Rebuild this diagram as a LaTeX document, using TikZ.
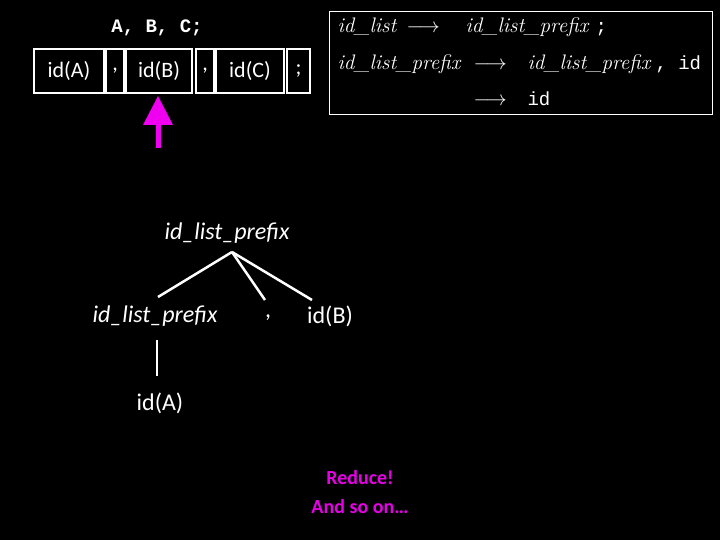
\documentclass[tikz,border=0pt]{standalone}
\usepackage{fontspec}
\setmainfont{Carlito}
\newfontfamily\gram{Latin Modern Roman}
\newfontfamily\mono{Liberation Mono}
\definecolor{magA}{RGB}{240,0,240}
\definecolor{magT}{RGB}{230,0,230}
\begin{document}
\begin{tikzpicture}[x=1pt,y=-1pt,
  cell/.style={draw=white,line width=2.5pt,minimum height=44pt,inner sep=0pt,text=white,font=\fontsize{22}{26}\selectfont},
  lbl/.style={text=white,font=\fontsize{24}{28}\selectfont},
  gr/.style={text=white,font=\gram\itshape\fontsize{21}{24}\selectfont,anchor=base west},
  grm/.style={text=white,font=\mono\fontsize{19}{24}\selectfont,anchor=base west},
  edge/.style={white,line width=2.5pt},
  mag/.style={text=magT,font=\bfseries\fontsize{20}{24}\selectfont}]
\fill[black] (0,0) rectangle (720,540);
\useasboundingbox (0,0) rectangle (720,540);
\node[text=white,font=\mono\bfseries\fontsize{19}{22}\selectfont] (abc) at (157,28) {A, B, C;};
\node[cell,minimum width=70pt] (c1) at (69,71) {id(A)};
\node[cell,minimum width=18pt] (c2) at (115,71) {,};
\node[cell,minimum width=66pt] (c3) at (159,71) {id(B)};
\node[cell,minimum width=18pt] (c4) at (205,71) {,};
\node[cell,minimum width=68pt] (c5) at (250,71) {id(C)};
\node[cell,minimum width=23pt] (c6) at (298.5,71) {;};
\coordinate (atip) at (158,96);
\coordinate (abase) at (158,148);
\fill[magA] (143,125) -- (atip) -- (173,125) -- cycle;
\draw[magA,line width=5pt] (158,124) -- (abase);
\node[draw=white,line width=1pt,minimum width=383pt,minimum height=103pt] (gbox) at (520.5,63.5) {};
\node[gr] (g1) at (334,33) {id\_list};
\node[gr] (g2) at (403,33) {$\longrightarrow$};
\node[gr] (g3) at (462,33) {id\_list\_prefix};
\node[grm] (g4) at (592,33) {;};
\node[gr] (g5) at (334,70) {id\_list\_prefix};
\node[gr] (g6) at (470,70) {$\longrightarrow$};
\node[gr] (g7) at (524,70) {id\_list\_prefix};
\node[grm] (g8) at (652,70) {, id};
\node[gr] (g9) at (470,106) {$\longrightarrow$};
\node[grm] (g10) at (524,106) {id};
\node[lbl,font=\itshape\fontsize{24}{28}\selectfont] (root) at (227,233) {id\_list\_prefix};
\node[lbl,font=\itshape\fontsize{24}{28}\selectfont] (ch1) at (155,316) {id\_list\_prefix};
\node[lbl] (ch2) at (268,318) {,};
\node[lbl] (ch3) at (330,316) {id(B)};
\node[lbl] (leaf) at (160,403) {id(A)};
\coordinate (r) at (232,252);
\coordinate (e1) at (158,297);
\coordinate (e2) at (265,300);
\coordinate (e3) at (312,300);
\coordinate (v1) at (157,340);
\coordinate (v2) at (157,376);
\draw[edge] (r) -- (e1);
\draw[edge] (r) -- (e2);
\draw[edge] (r) -- (e3);
\draw[edge] (v1) -- (v2);
\node[mag] (m1) at (360,478) {Reduce!};
\node[mag] (m2) at (360,507) {And so on…};
\end{tikzpicture}
\end{document}
